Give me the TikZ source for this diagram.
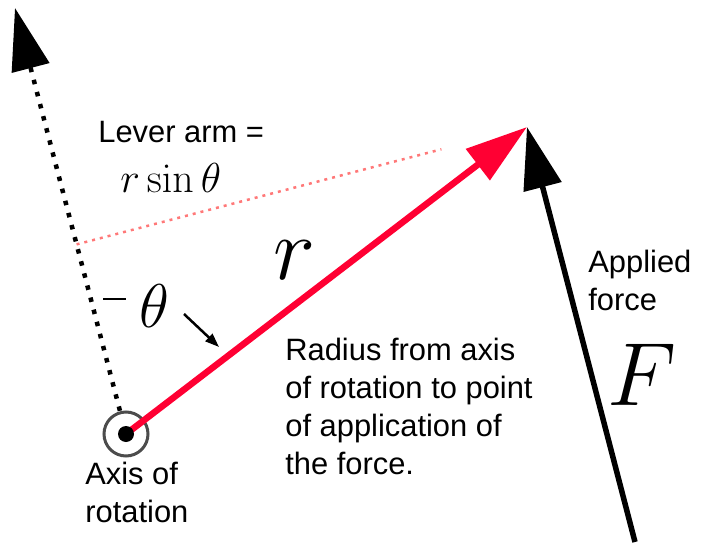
\documentclass[tikz,border=0pt]{standalone}
\usepackage{fix-cm}
\usepackage[no-math]{fontspec}
\setmainfont{Liberation Sans}
\usetikzlibrary{arrows.meta, calc}
\definecolor{rojo}{RGB}{255,0,51}
\definecolor{rosa}{RGB}{255,120,120}

\begin{document}
\begin{tikzpicture}[x=1bp, y=-1bp, >={Triangle[length=62bp, width=38bp]}, line width=0.7pt,
  texto/.style={inner sep=0pt, anchor=north west, align=left, font=\fontsize{31}{38}\selectfont},
  simbolo/.style={inner sep=0pt, anchor=base, font=\fontsize{#1}{#1}\selectfont}]
  \useasboundingbox (0,0) rectangle (705,547);
  % puntos principales
  \coordinate (O) at (126,434);       % eje de rotación
  \coordinate (P) at (527,127);       % punto de aplicación de la fuerza
  \coordinate (N) at (15,8);          % punta de la flecha punteada
  \coordinate (Q) at (635,542);       % cola de la fuerza
  \coordinate (H) at ($(O)!(P)!(N)$); % pie del brazo de palanca
  % brazo de palanca
  \draw[rosa, line width=2.5bp, dash pattern=on 3bp off 5bp] (H)--($(H)!0.81!(P)$);
  % dirección punteada
  \draw[->, line width=4.5bp, dash pattern=on 4.5bp off 8bp, shorten <=24bp] (O)--(N);
  % fuerza aplicada
  \draw[->, line width=5.5bp] (Q)--(P);
  % eje y radio
  \draw[black!70, line width=3bp] (O) circle (22);
  \draw[->, rojo, line width=6.5bp] (O)--(P);
  \fill (O) circle (8);
  % ángulo
  \coordinate (t1) at (103,299);
  \coordinate (t2) at (126,299);
  \coordinate (f1) at (184,314);
  \coordinate (f2) at (219,347);
  \draw[line width=2.5bp] (t1)--(t2);
  \draw[-{Triangle[length=14bp, width=10bp]}, line width=2.5bp] (f1)--(f2);
  \node[simbolo=62] (theta) at (154,327) {$\theta$};
  % etiquetas
  \node[texto] (brazo) at (98,121) {Lever arm =};
  \node[simbolo=42, anchor=base west] (rsin) at (120,193) {$r\sin\theta$};
  \node[simbolo=90] (r) at (294,280) {$r$};
  \node[simbolo=90] (F) at (642,405) {$F$};
  \node[texto] (radio) at (285,338) {Radius from axis\\of rotation to point\\of application of\\the force.};
  \node[texto] (aplicada) at (588,250) {Applied\\force};
  \node[texto] (eje) at (85,462) {Axis of\\rotation};
\end{tikzpicture}
\end{document}
